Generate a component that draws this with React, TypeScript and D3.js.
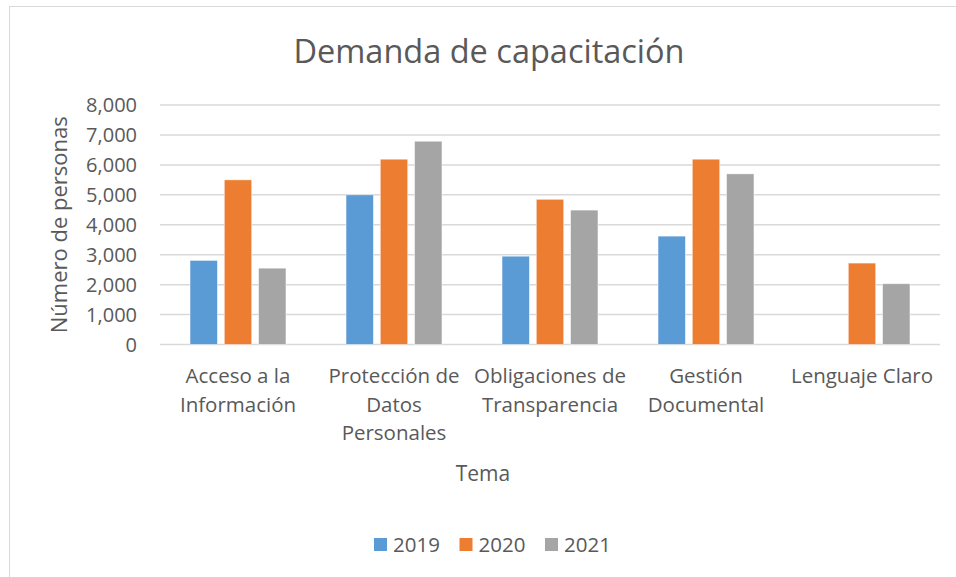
import React from "react";
import * as d3 from "d3";

const categories: string[][] = [
  ["Acceso a la", "Información"],
  ["Protección de", "Datos", "Personales"],
  ["Obligaciones de", "Transparencia"],
  ["Gestión", "Documental"],
  ["Lenguaje Claro"],
];
const seriesNames = ["2019", "2020", "2021"];
const values2019 = [2810, 5000, 2950, 3620, 0];
const values2020 = [5500, 6190, 4850, 6190, 2720];
const values2021 = [2550, 6790, 4490, 5700, 2030];
const yTicks = [0, 1000, 2000, 3000, 4000, 5000, 6000, 7000, 8000];
const colors = ["#5B9BD5", "#ED7D31", "#A5A5A5"];

export default function App() {
  const W = 956, H = 577;
  const left = 160, right = 940, top = 105, bottom = 344.5;
  const font = "'Open Sans', sans-serif";
  const textColor = "#595959";
  const series = [values2019, values2020, values2021];
  const x0 = d3.scaleBand<number>().domain(d3.range(categories.length)).range([left, right]).paddingInner(0.385).paddingOuter(0.1925);
  const x1 = d3.scaleBand<number>().domain([0, 1, 2]).range([0, x0.bandwidth()]).paddingInner(0.2);
  const y = d3.scaleLinear().domain([0, 8000]).range([bottom, top]);
  const fmt = d3.format(",");
  return (
    <svg width={W} height={H} style={{ position: "absolute", left: 0, top: 0, background: "#fff" }}>
      <rect x={9.5} y={6.5} width={W + 20} height={H + 20} fill="#fff" stroke="#D9D9D9" strokeWidth={1} />
      <text x={489} y={63} textAnchor="middle" fontFamily={font} fontSize={32.5} fill={textColor}>
        Demanda de capacitación
      </text>
      {yTicks.map((t) => (
        <g key={t}>
          <line x1={left} x2={right} y1={y(t)} y2={y(t)} stroke="#D9D9D9" strokeWidth={1.5} />
          <text x={137} y={y(t) + 7} textAnchor="end" fontFamily={font} fontSize={20} fill={textColor}>
            {fmt(t)}
          </text>
        </g>
      ))}
      {series.map((vals, si) =>
        vals.map((v, ci) =>
          v > 0 ? (
            <rect
              key={`${si}-${ci}`}
              x={(x0(ci) as number) + (x1(si) as number)}
              y={y(v)}
              width={x1.bandwidth()}
              height={bottom - y(v)}
              fill={colors[si]}
              stroke="#fff"
              strokeOpacity={0.6}
              strokeWidth={0.8}
            />
          ) : null
        )
      )}
      {categories.map((lines, ci) => (
        <text key={ci} textAnchor="middle" fontFamily={font} fontSize={20.5} fill={textColor}>
          {lines.map((l, li) => (
            <tspan key={li} x={(x0(ci) as number) + x0.bandwidth() / 2} y={383 + li * 28.7}>
              {l}
            </tspan>
          ))}
        </text>
      ))}
      <text
        transform={`translate(67,${(top + bottom) / 2}) rotate(-90)`}
        textAnchor="middle"
        fontFamily={font}
        fontSize={22}
        fill={textColor}
      >
        Número de personas
      </text>
      <text x={483} y={481} textAnchor="middle" fontFamily={font} fontSize={21} fill={textColor}>
        Tema
      </text>
      {seriesNames.map((s, i) => (
        <g key={s} transform={`translate(${374 + i * 85.5},0)`}>
          <rect x={0} y={538} width={13} height={13} fill={colors[i]} />
          <text x={19} y={552} fontFamily={font} fontSize={20.5} fill={textColor}>
            {s}
          </text>
        </g>
      ))}
    </svg>
  );
}
